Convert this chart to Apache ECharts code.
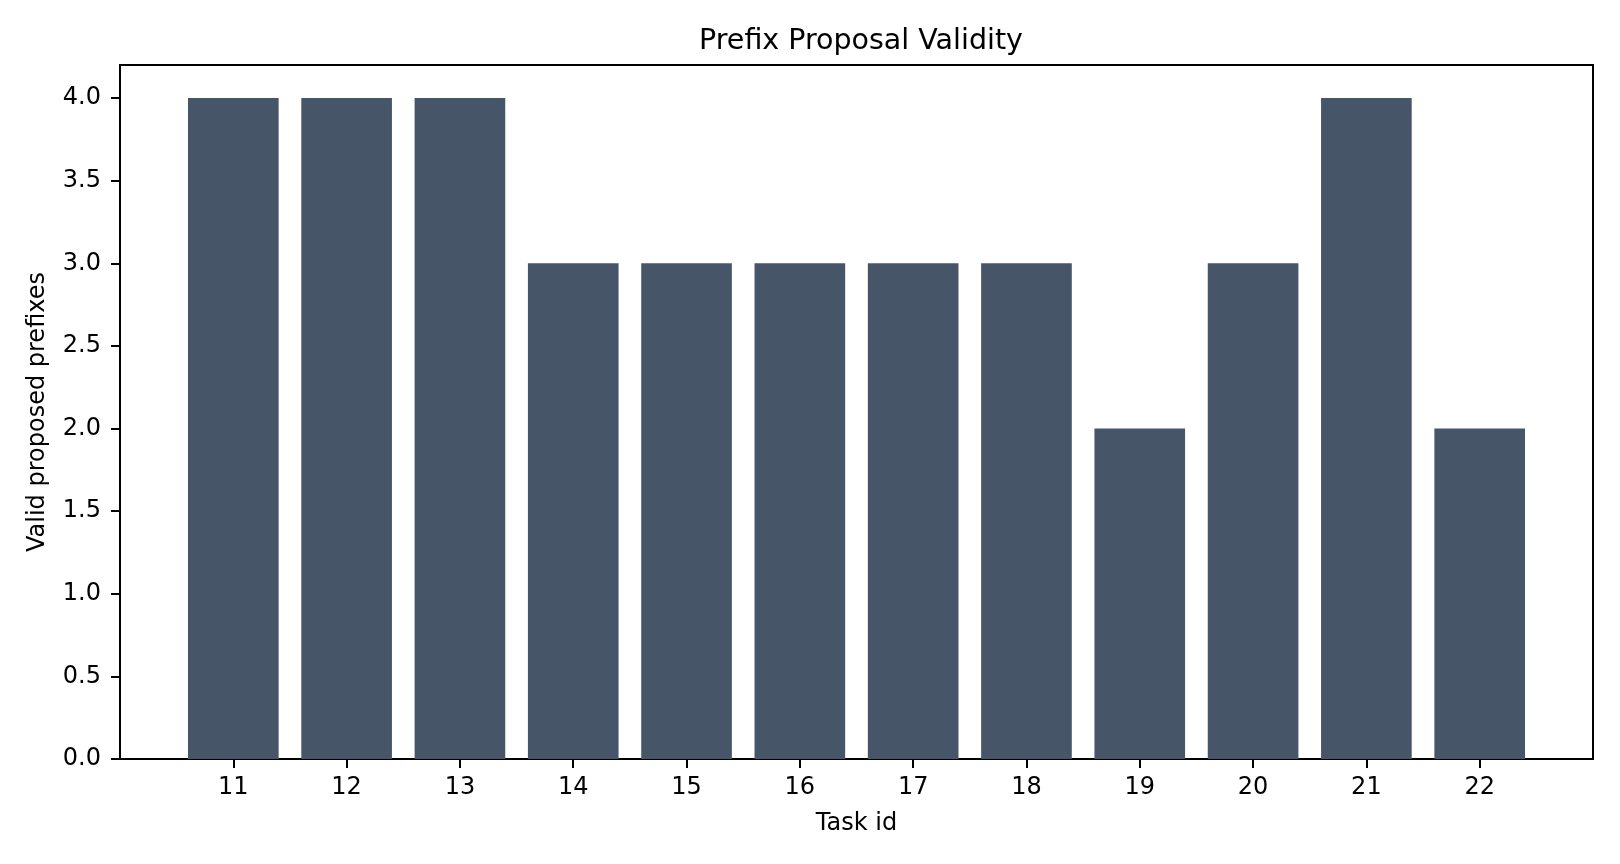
<!DOCTYPE html>
<html>
<head>
<meta charset="utf-8">
<script src="https://cdn.jsdelivr.net/npm/echarts@6/dist/echarts.min.js"></script>
<style>
  html, body { margin: 0; padding: 0; background: #fff; }
  #chart { width: 1620px; height: 864px; }
</style>
</head>
<body>
<div id="chart"></div>
<script>
// data
var taskIds = [11, 12, 13, 14, 15, 16, 17, 18, 19, 20, 21, 22];
var validCounts = [4, 4, 4, 3, 3, 3, 3, 3, 2, 3, 4, 2];
var yTicks = [0, 0.5, 1, 1.5, 2, 2.5, 3, 3.5, 4];

var font = 'DejaVu Sans';
var chart = echarts.init(document.getElementById('chart'));

var barData = taskIds.map(function (id, i) {
    return [id, validCounts[i]];
});

chart.setOption({
    animation: false,
    backgroundColor: '#ffffff',
    title: {
        text: 'Prefix Proposal Validity',
        left: 856,
        top: 22,
        textAlign: 'center',
        textStyle: { fontFamily: font, fontSize: 28.5, fontWeight: 'normal', color: '#000' }
    },
    grid: {
        left: 120, right: 27, top: 65, bottom: 105,
        show: true, borderColor: '#000', borderWidth: 2
    },
    xAxis: {
        type: 'value',
        min: 10, max: 23,
        name: 'Task id',
        nameLocation: 'middle',
        nameGap: 53,
        nameTextStyle: { fontFamily: font, fontSize: 24, color: '#000' },
        splitLine: { show: false },
        axisLine: { show: true, lineStyle: { color: '#000', width: 2 } },
        axisTick: { show: true, length: 9, customValues: taskIds, lineStyle: { color: '#000', width: 2 } },
        axisLabel: { customValues: taskIds, margin: 17, fontFamily: font, fontSize: 24, color: '#000' }
    },
    yAxis: {
        type: 'value',
        min: 0, max: 4.2,
        name: 'Valid proposed prefixes',
        nameLocation: 'middle',
        nameGap: 70,
        nameTextStyle: { fontFamily: font, fontSize: 24, color: '#000' },
        splitLine: { show: false },
        axisLine: { show: true, lineStyle: { color: '#000', width: 2 } },
        axisTick: { show: true, length: 9, customValues: yTicks, lineStyle: { color: '#000', width: 2 } },
        axisLabel: {
            customValues: yTicks, margin: 19, fontFamily: font, fontSize: 24, color: '#000',
            formatter: function (v) { return v.toFixed(1); }
        }
    },
    series: [{
        type: 'bar',
        data: barData,
        barWidth: '80%',
        itemStyle: { color: '#475569' }
    }]
});
</script>
</body>
</html>
